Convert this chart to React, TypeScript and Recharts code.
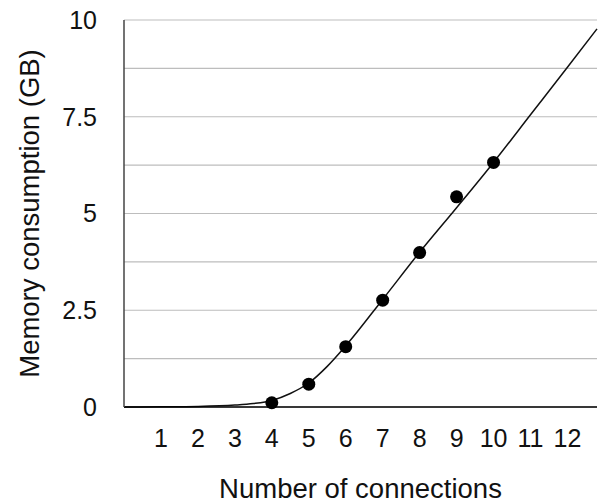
import React from "react";
import { ComposedChart, Line, Scatter, XAxis, YAxis, CartesianGrid, Label } from "recharts";

const connections = [4, 5, 6, 7, 8, 9, 10];
const memoryGb = [0.11, 0.59, 1.56, 2.76, 3.99, 5.43, 6.32];

const trendX = [0, 1, 2, 3, 3.5, 4, 4.5, 5, 5.5, 6, 7, 8, 9, 10, 11, 12, 12.8];
const trendY = [0, 0.005, 0.015, 0.05, 0.09, 0.17, 0.35, 0.62, 1.05, 1.58, 2.78, 4.0, 5.15, 6.32, 7.55, 8.78, 9.77];

const xTicks = [1, 2, 3, 4, 5, 6, 7, 8, 9, 10, 11, 12];
const yTicks = [0, 1.25, 2.5, 3.75, 5, 6.25, 7.5, 8.75, 10];
const yLabels = ["0", "2.5", "5", "7.5", "10"];

const points = connections.map((x, i) => ({ x, y: memoryGb[i] }));
const trend = trendX.map((x, i) => ({ x, y: trendY[i] }));

const font = "'Liberation Sans', Arial, Helvetica, sans-serif";

const Dot = (props: any) => <circle cx={props.cx} cy={props.cy} r={6.5} fill="#000" />;

export default function App() {
  return (
    <div style={{ position: "absolute", left: 0, top: 0, fontFamily: font }}>
      <ComposedChart width={598} height={504} margin={{ top: 20, right: 1, left: 0, bottom: 0 }}>
        <CartesianGrid horizontal vertical={false} stroke="#bdbdbd" strokeWidth={1.2} />
        <XAxis
          type="number"
          dataKey="x"
          domain={[0, 12.8]}
          ticks={xTicks}
          interval={0}
          height={97}
          tickLine={false}
          tickSize={0}
          tickMargin={22}
          axisLine={{ stroke: "#000", strokeWidth: 1.5 }}
          tick={{ fill: "#111", fontSize: 25, fontFamily: font }}
        >
          <Label
            value="Number of connections"
            position="insideBottom"
            offset={6}
            style={{ fill: "#111", fontSize: 27.5, fontFamily: font }}
          />
        </XAxis>
        <YAxis
          type="number"
          dataKey="y"
          domain={[0, 10]}
          ticks={yTicks}
          interval={0}
          width={124}
          tickLine={false}
          tickSize={0}
          tickMargin={27}
          axisLine={{ stroke: "#444", strokeWidth: 1.5 }}
          tick={{ fill: "#111", fontSize: 25, fontFamily: font }}
          tickFormatter={(v: number) => (yLabels.includes(String(v)) ? String(v) : "")}
        >
          <Label
            value="Memory consumption (GB)"
            angle={-90}
            position="insideLeft"
            offset={29}
            style={{ fill: "#111", fontSize: 27.5, fontFamily: font, textAnchor: "middle" }}
          />
        </YAxis>
        <Line
          data={trend}
          dataKey="y"
          type="monotone"
          stroke="#111"
          strokeWidth={1.5}
          dot={false}
          isAnimationActive={false}
        />
        <Scatter data={points} dataKey="y" shape={Dot} isAnimationActive={false} />
      </ComposedChart>
    </div>
  );
}
